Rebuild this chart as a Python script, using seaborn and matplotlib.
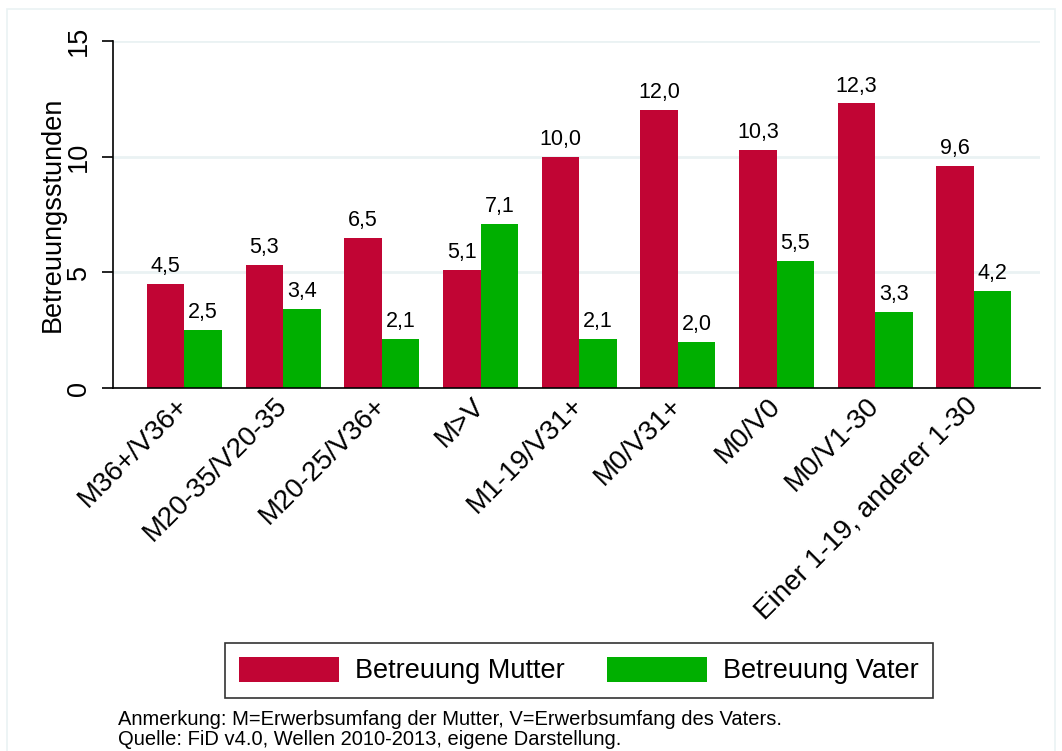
import numpy as np
import pandas as pd
import matplotlib
matplotlib.use("Agg")
import matplotlib.pyplot as plt
from matplotlib.patches import Rectangle
import seaborn as sns

categories = ["M36+/V36+", "M20-35/V20-35", "M20-25/V36+", "M>V", "M1-19/V31+",
              "M0/V31+", "M0/V0", "M0/V1-30", "Einer 1-19, anderer 1-30"]
mutter = [4.5, 5.3, 6.5, 5.1, 10.0, 12.0, 10.3, 12.3, 9.6]
vater = [2.5, 3.4, 2.1, 7.1, 2.1, 2.0, 5.5, 3.3, 4.2]
series_names = ["Betreuung Mutter", "Betreuung Vater"]
yticks = [0, 5, 10, 15]
ylabel = "Betreuungsstunden"
note_lines = ["Anmerkung: M=Erwerbsumfang der Mutter, V=Erwerbsumfang des Vaters.",
              "Quelle: FiD v4.0, Wellen 2010-2013, eigene Darstellung."]

colors = ["#C10534", "#00AF00"]

df = pd.DataFrame({
    "cat": categories * 2,
    "series": [series_names[0]] * len(categories) + [series_names[1]] * len(categories),
    "val": mutter + vater,
})

sns.set_theme(style="white")
plt.rcParams["font.family"] = ["Liberation Sans", "DejaVu Sans"]
plt.rcParams["text.color"] = "black"
plt.rcParams["axes.labelcolor"] = "black"
plt.rcParams["xtick.color"] = "black"
plt.rcParams["ytick.color"] = "black"

fig = plt.figure(figsize=(10.62, 7.51), dpi=100)
fig.patch.set_facecolor("white")
# faint outer frame
fig.patches.append(Rectangle((7 / 1062, -0.01), (1055 - 7) / 1062, 1 - 9 / 751 + 0.01,
                             transform=fig.transFigure, fill=False,
                             edgecolor="#EAF2F3", linewidth=1.2))

ax = fig.add_axes([113 / 1062, 1 - 388 / 751, (1040 - 113) / 1062, (388 - 41) / 751])
sns.barplot(data=df, x="cat", y="val", hue="series", palette=colors,
            width=0.76, saturation=1, ax=ax, linewidth=0, legend=True)

ax.set_xlim(-0.724, 8.669)
ax.set_ylim(0, 15)
ax.set_yticks(yticks)
ax.set_yticklabels([str(t) for t in yticks], rotation=90, va="center", fontsize=19.5)
ax.yaxis.grid(True, color="#EAF2F3", linewidth=2)
ax.set_axisbelow(True)
ax.tick_params(axis="y", length=8, width=1.2, color="black", pad=7, left=True)
ax.tick_params(axis="x", length=0, pad=10)
ax.set_xticks(range(len(categories)))
ax.set_xticklabels(categories, rotation=45, ha="right", va="center",
                   rotation_mode="anchor", fontsize=20)
ax.set_xlabel("")
ax.set_ylabel(ylabel, fontsize=19.5, labelpad=0)

for s in ["top", "right"]:
    ax.spines[s].set_visible(False)
for s in ["left", "bottom"]:
    ax.spines[s].set_color("black")
    ax.spines[s].set_linewidth(1.2)

for cont in ax.containers:
    ax.bar_label(cont, labels=[f"{v:.1f}".replace(".", ",") for v in cont.datavalues],
                 padding=5, fontsize=15.5, color="black")

handles, labels = ax.get_legend_handles_labels()
ax.get_legend().remove()
leg = fig.legend(handles, labels, loc="center", bbox_to_anchor=(579 / 1062, 1 - 670.5 / 751),
                 ncol=2, fontsize=19.5, frameon=True, fancybox=False, edgecolor="black",
                 handlelength=3.7, handleheight=1.05, handletextpad=0.6, columnspacing=1.55,
                 borderpad=0.5, borderaxespad=0)
leg.get_frame().set_linewidth(1.2)

fig.text(118 / 1062, 1 - 725 / 751, note_lines[0], fontsize=14.5, va="baseline", ha="left")
fig.text(118 / 1062, 1 - 745 / 751, note_lines[1], fontsize=14.5, va="baseline", ha="left")

fig.savefig("out.png", dpi=100, facecolor="white")
